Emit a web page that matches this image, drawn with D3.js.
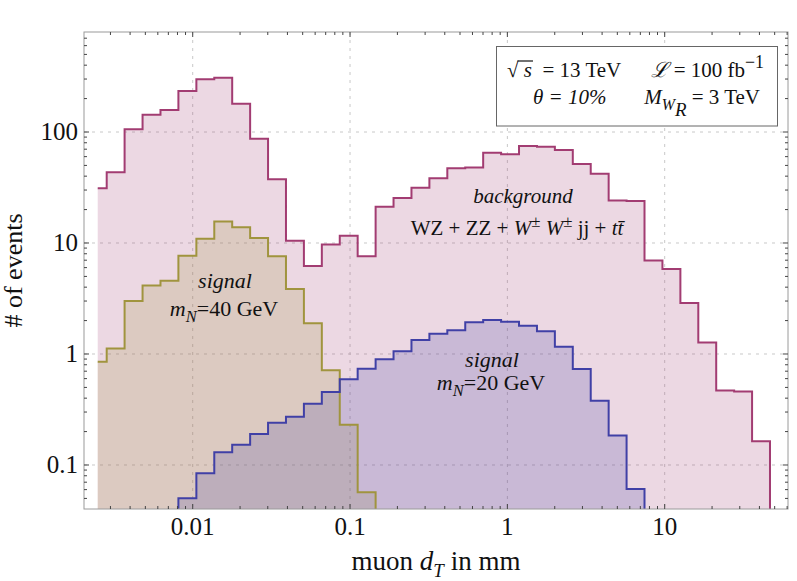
<!DOCTYPE html>
<html>
<head>
<meta charset="utf-8">
<script src="https://cdn.jsdelivr.net/npm/d3@7"></script>
<style>
  body { margin: 0; background: #fff; }
  text { font-family: "Liberation Serif", "Times New Roman", serif; fill: #111; }
</style>
</head>
<body>
<svg width="797" height="581"></svg>
<script>
// histogram bin edges in mm (log spaced, first bin is a half bin)
var binEdges = [0.00249, 0.00284, 0.00369, 0.00480, 0.00624, 0.00811, 0.01055, 0.01371,
    0.01782, 0.02317, 0.03012, 0.03915, 0.05090, 0.06617, 0.08602, 0.1118, 0.1454,
    0.1890, 0.2457, 0.3194, 0.4152, 0.5398, 0.7017, 0.9122, 1.186, 1.542, 2.004,
    2.605, 3.387, 4.403, 5.724, 7.441, 9.673, 12.58, 16.35, 21.25, 27.63, 35.92, 46.69];

// # of events per bin (null = below the plotted range)
var background = [31.1, 43.4, 106, 143, 158, 234, 298, 308, 180, 87, 37.5, 10.5, 6.2,
    9.7, 11.6, 7.6, 21.2, 25.4, 31.5, 38.3, 47.1, 47.8, 65.1, 63, 74.8, 73.7, 68.8,
    51.5, 42.1, 24.1, 23.9, 6.97, 5.83, 2.88, 1.27, 0.47, 0.46, 0.164];
var signal40 = [0.853, 1.12, 3.0, 4.15, 4.57, 7.69, 10.9, 15.6, 13.9, 11.1, 7.58, 3.85,
    1.89, 0.713, 0.231, 0.0568];
var signal20 = [null, null, null, null, null, 0.0501, 0.0841, 0.130, 0.152, 0.190, 0.240,
    0.272, 0.357, 0.455, 0.592, 0.737, 0.896, 1.06, 1.34, 1.52, 1.64, 1.93, 2.02, 1.95,
    1.80, 1.60, 1.16, 0.733, 0.380, 0.184, 0.0608];

var xMajor = [0.01, 0.1, 1, 10];
var xLabels = ["0.01", "0.1", "1", "10"];
var yMajor = [0.1, 1, 10, 100];
var yLabels = ["0.1", "1", "10", "100"];

var svg = d3.select("svg");
var pLeft = 84, pRight = 788, pTop = 32, pBottom = 509;

var x = d3.scaleLog().domain([0.002037, 60.77]).range([pLeft, pRight]);
var y = d3.scaleLog().domain([0.04014, 796]).range([pBottom, pTop]);

svg.append("defs").append("clipPath").attr("id", "plotclip")
    .append("rect").attr("x", pLeft).attr("y", pTop)
    .attr("width", pRight - pLeft).attr("height", pBottom - pTop);

// grid
var grid = svg.append("g").attr("stroke", "#c8c8c8").attr("stroke-dasharray", "3,5");
grid.selectAll(".gx").data(xMajor).enter().append("line")
    .attr("x1", d => x(d)).attr("x2", d => x(d)).attr("y1", pTop).attr("y2", pBottom);
grid.selectAll(".gy").data(yMajor).enter().append("line")
    .attr("y1", d => y(d)).attr("y2", d => y(d)).attr("x1", pLeft).attr("x2", pRight);

function stepPoints(vals) {
    var pts = [];
    var first = vals.findIndex(v => v != null);
    if (first > 0) pts.push([x(binEdges[first]), pBottom + 5]);
    for (var i = first; i < vals.length; i++) {
        var yy = vals[i] == null ? pBottom + 5 : y(vals[i]);
        pts.push([x(binEdges[i]), yy]);
        pts.push([x(binEdges[i + 1]), yy]);
    }
    pts.push([x(binEdges[vals.length]), pBottom + 5]);
    return { pts: pts, x0: x(binEdges[Math.max(first, 0)]), x1: x(binEdges[vals.length]) };
}

var series = [
    { vals: background, color: "#a23c72" },
    { vals: signal40, color: "#a0943e" },
    { vals: signal20, color: "#4040a6" }
];

var plot = svg.append("g").attr("clip-path", "url(#plotclip)");
var line = d3.line();

series.forEach(function(s) {
    var p = stepPoints(s.vals);
    var poly = p.pts.concat([[p.x1, pBottom + 5], [p.x0, pBottom + 5]]);
    plot.append("path")
        .attr("d", line(poly) + "Z")
        .attr("fill", s.color)
        .attr("fill-opacity", 0.2)
        .attr("stroke", "none");
});
series.forEach(function(s) {
    var p = stepPoints(s.vals);
    plot.append("path")
        .attr("d", line(p.pts))
        .attr("fill", "none")
        .attr("stroke", s.color)
        .attr("stroke-width", 2);
});

// frame
svg.append("rect").attr("x", pLeft).attr("y", pTop)
    .attr("width", pRight - pLeft).attr("height", pBottom - pTop)
    .attr("fill", "none").attr("stroke", "#9a9a9a");

// ticks
function minorTicks(domain) {
    var out = [];
    for (var e = -4; e <= 3; e++) {
        for (var m = 1; m <= 9; m++) {
            var v = m * Math.pow(10, e);
            if (v >= domain[0] && v <= domain[1]) out.push({ v: v, major: m == 1 });
        }
    }
    return out;
}
var ticks = svg.append("g").attr("stroke", "#444");
minorTicks(x.domain()).forEach(function(t) {
    var len = t.major ? 5 : 3;
    ticks.append("line").attr("x1", x(t.v)).attr("x2", x(t.v)).attr("y1", pBottom).attr("y2", pBottom - len);
    ticks.append("line").attr("x1", x(t.v)).attr("x2", x(t.v)).attr("y1", pTop).attr("y2", pTop + len);
});
minorTicks(y.domain()).forEach(function(t) {
    var len = t.major ? 5 : 3;
    ticks.append("line").attr("y1", y(t.v)).attr("y2", y(t.v)).attr("x1", pLeft).attr("x2", pLeft + len);
    ticks.append("line").attr("y1", y(t.v)).attr("y2", y(t.v)).attr("x1", pRight).attr("x2", pRight - len);
});

// tick labels
svg.selectAll(".xl").data(xMajor).enter().append("text")
    .attr("x", d => x(d)).attr("y", 535)
    .attr("text-anchor", "middle").attr("font-size", 25)
    .text((d, i) => xLabels[i]);
svg.selectAll(".yl").data(yMajor).enter().append("text")
    .attr("x", 78).attr("y", d => y(d) + 8)
    .attr("text-anchor", "end").attr("font-size", 25)
    .text((d, i) => yLabels[i]);

// rich text helper: parts with italic, offset (em, +down), scale
function rich(sel, px, py, size, anchor, parts) {
    var t = sel.append("text").attr("x", px).attr("y", py)
        .attr("font-size", size).attr("text-anchor", anchor)
        .attr("xml:space", "preserve");
    var cur = 0;
    parts.forEach(function(p) {
        var off = p.off || 0;
        t.append("tspan")
            .attr("dy", (off - cur) * size)
            .attr("font-size", p.scale ? size * p.scale : size)
            .attr("font-style", p.i ? "italic" : "normal")
            .text(p.t);
        cur = off;
    });
    return t;
}

// axis labels
rich(svg, (pLeft + pRight) / 2, 570, 27, "middle", [
    { t: "muon " }, { t: "d", i: 1 }, { t: "T", i: 1, off: 0.25, scale: 0.7 }, { t: " in mm", off: 0 }
]);
svg.append("text")
    .attr("transform", "translate(22," + ((pTop + pBottom) / 2) + ") rotate(-90)")
    .attr("text-anchor", "middle").attr("font-size", 26)
    .text("# of events");

// annotations
rich(svg, 523, 203, 21, "middle", [{ t: "background", i: 1 }]);
rich(svg, 517, 235, 21, "middle", [
    { t: "WZ + ZZ + " }, { t: "W", i: 1 }, { t: "±", off: -0.4, scale: 0.8 },
    { t: " W", i: 1, off: 0 }, { t: "±", off: -0.4, scale: 0.8 },
    { t: " jj + ", off: 0 }, { t: "tt\u0304", i: 1 }
]);
rich(svg, 225, 288, 22, "middle", [{ t: "signal", i: 1 }]);
rich(svg, 224, 316, 22, "middle", [
    { t: "m", i: 1 }, { t: "N", i: 1, off: 0.28, scale: 0.75 }, { t: "=40 GeV", off: 0 }
]);
rich(svg, 492, 367, 22, "middle", [{ t: "signal", i: 1 }]);
rich(svg, 491, 390, 22, "middle", [
    { t: "m", i: 1 }, { t: "N", i: 1, off: 0.28, scale: 0.75 }, { t: "=20 GeV", off: 0 }
]);

// legend box
var lg = svg.append("g");
lg.append("rect").attr("x", 496.5).attr("y", 46.5).attr("width", 281).attr("height", 79.5)
    .attr("fill", "#fff").attr("stroke", "#666");
var sq = rich(lg, 507, 77, 21, "start", [
    { t: "\u221A" }, { t: " s", i: 1 }, { t: "  = 13 TeV" }
]);
var ext0 = sq.node().getExtentOfChar(0);
var ext = sq.node().getExtentOfChar(2);
lg.append("line")
    .attr("x1", ext0.x + ext0.width - 1).attr("x2", ext.x + ext.width + 1)
    .attr("y1", ext0.y + 3).attr("y2", ext0.y + 3)
    .attr("stroke", "#111").attr("stroke-width", 1.2);
rich(lg, 764, 77, 21, "end", [
    { t: "\u2112", i: 1 }, { t: " = 100 fb" }, { t: "\u22121", off: -0.45, scale: 0.85 }
]);
rich(lg, 533, 104, 21, "start", [
    { t: "\u03B8", i: 1 }, { t: " = 10%", i: 1 }
]);
rich(lg, 760, 104, 21, "end", [
    { t: "M", i: 1 }, { t: "W", i: 1, off: 0.3, scale: 0.75 },
    { t: "R", i: 1, off: 0.55, scale: 0.9 }, { t: " = 3 TeV", off: 0 }
]);
</script>
</body>
</html>
